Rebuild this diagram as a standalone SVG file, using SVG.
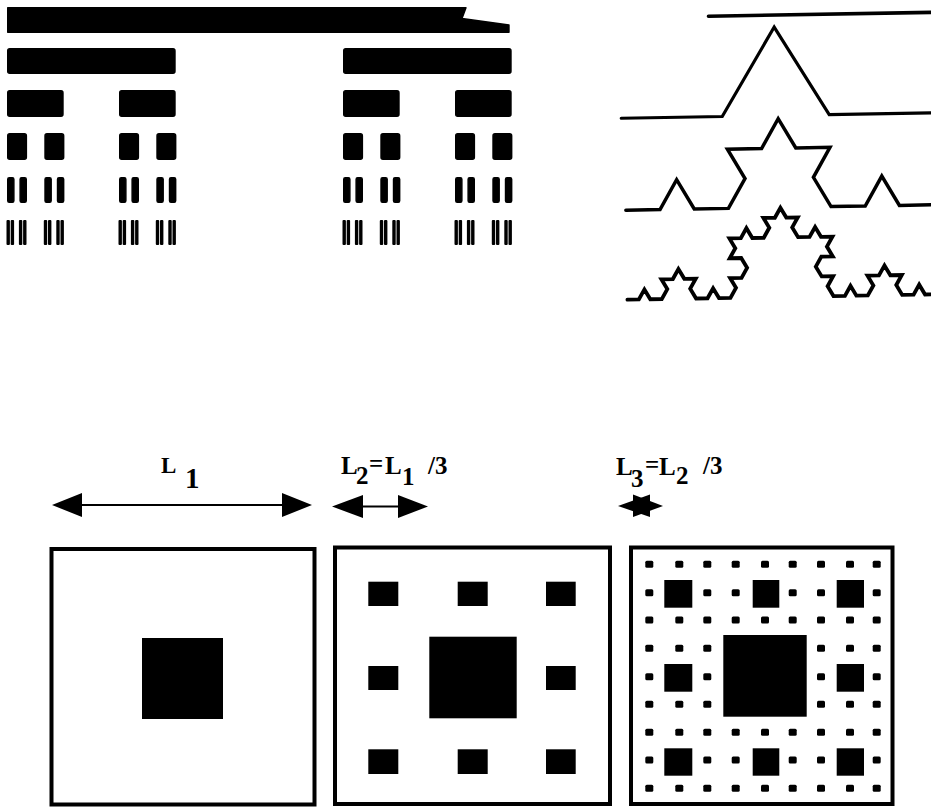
<svg xmlns="http://www.w3.org/2000/svg" xmlns:xlink="http://www.w3.org/1999/xlink" width="931" height="808" viewBox="0 0 931 808">
<style>
.k{fill:#000;stroke:#000;stroke-width:1.4;stroke-linejoin:round}
.k5{fill:#000}
.kc{fill:none;stroke:#000;stroke-linejoin:miter;stroke-linecap:round}
.frame{fill:none;stroke:#000;stroke-width:4}
.blk{fill:#000}
.lbl{font-family:"Liberation Serif","Times New Roman",serif;font-weight:bold;fill:#000}
.ln{stroke:#000;stroke-width:2;fill:none}
.hd{fill:#000}
</style>
<defs>
<rect id="dt" width="8" height="7" rx="1.5" fill="#000"/>
</defs>
<rect width="931" height="808" fill="#fff"/>

<g id="cantor">
<polygon class="k" points="7.7,7.7 466,7.7 462,18.5 509,25 509,32.3 7.7,32.3"/>
<g id="cantor-r1">
<rect class="k" x="7.7" y="48.7" width="167.3" height="24.6" rx="2"/>
<rect class="k" x="343.7" y="48.7" width="167.3" height="24.6" rx="2"/>
</g>
<g id="cantor-r2">
<rect class="k" x="7.7" y="90.7" width="55.3" height="25.6" rx="2"/>
<rect class="k" x="119.7" y="90.7" width="55.3" height="25.6" rx="2"/>
<rect class="k" x="343.7" y="90.7" width="55.3" height="25.6" rx="2"/>
<rect class="k" x="455.7" y="90.7" width="55.3" height="25.6" rx="2"/>
</g>
<g id="cantor-r3">
<rect class="k" x="7.7" y="133.7" width="18.7" height="25.6" rx="2"/>
<rect class="k" x="45" y="133.7" width="18.7" height="25.6" rx="2"/>
<rect class="k" x="119.7" y="133.7" width="18.7" height="25.6" rx="2"/>
<rect class="k" x="157" y="133.7" width="18.7" height="25.6" rx="2"/>
<rect class="k" x="343.7" y="133.7" width="18.7" height="25.6" rx="2"/>
<rect class="k" x="381" y="133.7" width="18.7" height="25.6" rx="2"/>
<rect class="k" x="455.7" y="133.7" width="18.7" height="25.6" rx="2"/>
<rect class="k" x="493" y="133.7" width="18.7" height="25.6" rx="2"/>
</g>
<g id="cantor-r4">
<rect class="k" x="7.7" y="177.7" width="6.2" height="24.6" rx="1.5"/>
<rect class="k" x="20.1" y="177.7" width="6.2" height="24.6" rx="1.5"/>
<rect class="k" x="45" y="177.7" width="6.2" height="24.6" rx="1.5"/>
<rect class="k" x="57.5" y="177.7" width="6.2" height="24.6" rx="1.5"/>
<rect class="k" x="119.7" y="177.7" width="6.2" height="24.6" rx="1.5"/>
<rect class="k" x="132.1" y="177.7" width="6.2" height="24.6" rx="1.5"/>
<rect class="k" x="157" y="177.7" width="6.2" height="24.6" rx="1.5"/>
<rect class="k" x="169.5" y="177.7" width="6.2" height="24.6" rx="1.5"/>
<rect class="k" x="343.7" y="177.7" width="6.2" height="24.6" rx="1.5"/>
<rect class="k" x="356.1" y="177.7" width="6.2" height="24.6" rx="1.5"/>
<rect class="k" x="381" y="177.7" width="6.2" height="24.6" rx="1.5"/>
<rect class="k" x="393.5" y="177.7" width="6.2" height="24.6" rx="1.5"/>
<rect class="k" x="455.7" y="177.7" width="6.2" height="24.6" rx="1.5"/>
<rect class="k" x="468.1" y="177.7" width="6.2" height="24.6" rx="1.5"/>
<rect class="k" x="493" y="177.7" width="6.2" height="24.6" rx="1.5"/>
<rect class="k" x="505.5" y="177.7" width="6.2" height="24.6" rx="1.5"/>
</g>
<g id="cantor-r5">
<rect class="k5" x="6.5" y="220" width="3.4" height="25" rx="1"/><rect class="k5" x="10.7" y="220" width="3.4" height="25" rx="1"/>
<rect class="k5" x="18.9" y="220" width="3.4" height="25" rx="1"/><rect class="k5" x="23.1" y="220" width="3.4" height="25" rx="1"/>
<rect class="k5" x="43.8" y="220" width="3.4" height="25" rx="1"/><rect class="k5" x="48" y="220" width="3.4" height="25" rx="1"/>
<rect class="k5" x="56.3" y="220" width="3.4" height="25" rx="1"/><rect class="k5" x="60.5" y="220" width="3.4" height="25" rx="1"/>
<rect class="k5" x="118.5" y="220" width="3.4" height="25" rx="1"/><rect class="k5" x="122.7" y="220" width="3.4" height="25" rx="1"/>
<rect class="k5" x="130.9" y="220" width="3.4" height="25" rx="1"/><rect class="k5" x="135.1" y="220" width="3.4" height="25" rx="1"/>
<rect class="k5" x="155.8" y="220" width="3.4" height="25" rx="1"/><rect class="k5" x="160" y="220" width="3.4" height="25" rx="1"/>
<rect class="k5" x="168.3" y="220" width="3.4" height="25" rx="1"/><rect class="k5" x="172.5" y="220" width="3.4" height="25" rx="1"/>
<rect class="k5" x="342.5" y="220" width="3.4" height="25" rx="1"/><rect class="k5" x="346.7" y="220" width="3.4" height="25" rx="1"/>
<rect class="k5" x="354.9" y="220" width="3.4" height="25" rx="1"/><rect class="k5" x="359.1" y="220" width="3.4" height="25" rx="1"/>
<rect class="k5" x="379.8" y="220" width="3.4" height="25" rx="1"/><rect class="k5" x="384" y="220" width="3.4" height="25" rx="1"/>
<rect class="k5" x="392.3" y="220" width="3.4" height="25" rx="1"/><rect class="k5" x="396.5" y="220" width="3.4" height="25" rx="1"/>
<rect class="k5" x="454.5" y="220" width="3.4" height="25" rx="1"/><rect class="k5" x="458.7" y="220" width="3.4" height="25" rx="1"/>
<rect class="k5" x="466.9" y="220" width="3.4" height="25" rx="1"/><rect class="k5" x="471.1" y="220" width="3.4" height="25" rx="1"/>
<rect class="k5" x="491.8" y="220" width="3.4" height="25" rx="1"/><rect class="k5" x="496" y="220" width="3.4" height="25" rx="1"/>
<rect class="k5" x="504.3" y="220" width="3.4" height="25" rx="1"/><rect class="k5" x="508.5" y="220" width="3.4" height="25" rx="1"/>
</g>
</g>

<g id="koch" transform="rotate(-1 779 160)">
<path id="koch0" class="kc" stroke-width="3.6" d="M711,15 L945,15"/>
<path id="koch1" class="kc" stroke-width="3.2" d="M622,115.5 L723,115.5 L776.5,27 L830,115.5 L945,115.5"/>
<path id="koch2" class="kc" stroke-width="3.5" d="M625,207.5 h34.2 l17.1-29.62 l17.1 29.62 h34.2 l17.1-29.62 l-17.1-29.62 h34.2 l17.1-29.62 l17.1 29.62 h34.2 l-17.1 29.62 l17.1 29.62 h34.2 l17.1-29.62 l17.1 29.62 h34.2"/>
<path id="koch3" class="kc" stroke-width="3.8" d="M625,297
h11.45 l5.725-9.916 l5.725 9.916 h11.45
l5.725-9.916 l-5.725-9.916 h11.45 l5.725-9.916
l5.725 9.916 h11.45 l-5.725 9.916 l5.725 9.916
h11.45 l5.725-9.916 l5.725 9.916 h11.45
l5.725-9.916 l-5.725-9.916 h11.45 l5.725-9.916
l-5.725-9.916 h-11.45 l5.725-9.916 l-5.725-9.916
h11.45 l5.725-9.916 l5.725 9.916 h11.45
l5.725-9.916 l-5.725-9.916 h11.45 l5.725-9.916
l5.725 9.916 h11.45 l-5.725 9.916 l5.725 9.916
h11.45 l5.725-9.916 l5.725 9.916 h11.45
l-5.725 9.916 l5.725 9.916 h-11.45 l-5.725 9.916
l5.725 9.916 h11.45 l-5.725 9.916 l5.725 9.916
h11.45 l5.725-9.916 l5.725 9.916 h11.45
l5.725-9.916 l-5.725-9.916 h11.45 l5.725-9.916
l5.725 9.916 h11.45 l-5.725 9.916 l5.725 9.916
h11.45 l5.725-9.916 l5.725 9.916 h11.45"/>
</g>

<g id="labels">
<g id="label-L1">
<text class="lbl" x="161" y="473" font-size="23">L</text>
<text class="lbl" x="185" y="488" font-size="29">1</text>
</g>
<g id="label-L2">
<text class="lbl" x="341" y="474" font-size="25">L</text>
<text class="lbl" x="356" y="484" font-size="25">2</text>
<text class="lbl" x="369" y="472" font-size="25">=</text>
<text class="lbl" x="385" y="474" font-size="25">L</text>
<text class="lbl" x="402" y="485" font-size="25">1</text>
<text class="lbl" x="428" y="474" font-size="25">/3</text>
</g>
<g id="label-L3">
<text class="lbl" x="616" y="475" font-size="25">L</text>
<text class="lbl" x="631" y="487" font-size="25">3</text>
<text class="lbl" x="645" y="473" font-size="25">=</text>
<text class="lbl" x="659" y="475" font-size="25">L</text>
<text class="lbl" x="676" y="484" font-size="25">2</text>
<text class="lbl" x="703" y="474" font-size="25">/3</text>
</g>
</g>

<g id="connectors">
<g id="arrow-L1">
<line class="ln" x1="80" y1="505" x2="284" y2="505"/>
<polygon class="hd" points="52,505 82,493 82,517"/>
<polygon class="hd" points="312,505 282,493 282,517"/>
</g>
<g id="arrow-L2">
<line class="ln" x1="361" y1="506.5" x2="400" y2="506.5"/>
<polygon class="hd" points="332,506.5 363,495 363,518"/>
<polygon class="hd" points="428,506.5 398,495 398,518"/>
</g>
<g id="arrow-L3">
<polygon class="hd" points="618,506 650,494.5 650,517"/>
<polygon class="hd" points="663,506 633,494.5 633,517"/>
</g>
</g>

<g id="carpet1">
<rect class="frame" x="51.5" y="549" width="263" height="255.5"/>
<rect class="blk" x="142" y="638" width="81" height="81"/>
</g>

<g id="carpet2">
<rect class="frame" x="335" y="547.5" width="275" height="256.5"/>
<rect class="blk" x="429.3" y="636.7" width="87.4" height="81.6"/>
<rect class="blk" x="368.3" y="581.7" width="30" height="24.3"/>
<rect class="blk" x="457.7" y="581.7" width="30" height="24.3"/>
<rect class="blk" x="546" y="581.7" width="29.7" height="24.3"/>
<rect class="blk" x="368.3" y="666" width="30" height="24"/>
<rect class="blk" x="546" y="666" width="29.7" height="24"/>
<rect class="blk" x="368.3" y="749.3" width="30" height="24.7"/>
<rect class="blk" x="457.7" y="749.3" width="30" height="24.7"/>
<rect class="blk" x="546" y="749.3" width="29.7" height="24.7"/>
</g>

<g id="carpet3">
<rect class="frame" x="631" y="547.5" width="261.5" height="256.5"/>
<rect class="blk" x="723.3" y="635" width="83.4" height="81.7"/>
<rect class="blk" x="664.3" y="580" width="28" height="27.7"/>
<rect class="blk" x="752.7" y="580" width="26.6" height="27.7"/>
<rect class="blk" x="836.7" y="580" width="27.3" height="27.7"/>
<rect class="blk" x="664.3" y="664" width="28" height="27.7"/>
<rect class="blk" x="836.7" y="664" width="27.3" height="27.7"/>
<rect class="blk" x="664.3" y="748.3" width="28" height="27.4"/>
<rect class="blk" x="752.7" y="748.3" width="26.6" height="27.4"/>
<rect class="blk" x="836.7" y="748.3" width="27.3" height="27.4"/>
<g id="carpet3-dots">
<use href="#dt" x="645.3" y="560.8"/><use href="#dt" x="675.3" y="560.8"/><use href="#dt" x="703.3" y="560.8"/><use href="#dt" x="731.7" y="560.8"/><use href="#dt" x="761" y="560.8"/><use href="#dt" x="788.7" y="560.8"/><use href="#dt" x="817" y="560.8"/><use href="#dt" x="846" y="560.8"/><use href="#dt" x="872.7" y="560.8"/>
<use href="#dt" x="645.3" y="589.2"/><use href="#dt" x="703.3" y="589.2"/><use href="#dt" x="731.7" y="589.2"/><use href="#dt" x="788.7" y="589.2"/><use href="#dt" x="817" y="589.2"/><use href="#dt" x="872.7" y="589.2"/>
<use href="#dt" x="645.3" y="616.5"/><use href="#dt" x="675.3" y="616.5"/><use href="#dt" x="703.3" y="616.5"/><use href="#dt" x="731.7" y="616.5"/><use href="#dt" x="761" y="616.5"/><use href="#dt" x="788.7" y="616.5"/><use href="#dt" x="817" y="616.5"/><use href="#dt" x="846" y="616.5"/><use href="#dt" x="872.7" y="616.5"/>
<use href="#dt" x="645.3" y="644.8"/><use href="#dt" x="675.3" y="644.8"/><use href="#dt" x="703.3" y="644.8"/><use href="#dt" x="817" y="644.8"/><use href="#dt" x="846" y="644.8"/><use href="#dt" x="872.7" y="644.8"/>
<use href="#dt" x="645.3" y="673.2"/><use href="#dt" x="703.3" y="673.2"/><use href="#dt" x="817" y="673.2"/><use href="#dt" x="872.7" y="673.2"/>
<use href="#dt" x="645.3" y="700.8"/><use href="#dt" x="675.3" y="700.8"/><use href="#dt" x="703.3" y="700.8"/><use href="#dt" x="817" y="700.8"/><use href="#dt" x="846" y="700.8"/><use href="#dt" x="872.7" y="700.8"/>
<use href="#dt" x="645.3" y="728.8"/><use href="#dt" x="675.3" y="728.8"/><use href="#dt" x="703.3" y="728.8"/><use href="#dt" x="731.7" y="728.8"/><use href="#dt" x="761" y="728.8"/><use href="#dt" x="788.7" y="728.8"/><use href="#dt" x="817" y="728.8"/><use href="#dt" x="846" y="728.8"/><use href="#dt" x="872.7" y="728.8"/>
<use href="#dt" x="645.3" y="756.5"/><use href="#dt" x="703.3" y="756.5"/><use href="#dt" x="731.7" y="756.5"/><use href="#dt" x="788.7" y="756.5"/><use href="#dt" x="817" y="756.5"/><use href="#dt" x="872.7" y="756.5"/>
<use href="#dt" x="645.3" y="784.8"/><use href="#dt" x="675.3" y="784.8"/><use href="#dt" x="703.3" y="784.8"/><use href="#dt" x="731.7" y="784.8"/><use href="#dt" x="761" y="784.8"/><use href="#dt" x="788.7" y="784.8"/><use href="#dt" x="817" y="784.8"/><use href="#dt" x="846" y="784.8"/><use href="#dt" x="872.7" y="784.8"/>
</g>
</g>
</svg>
